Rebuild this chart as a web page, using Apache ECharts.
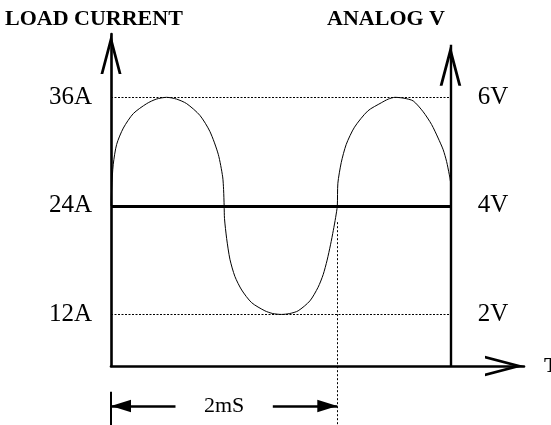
<!DOCTYPE html>
<html>
<head>
<meta charset="utf-8">
<script src="https://cdn.jsdelivr.net/npm/echarts@6/dist/echarts.min.js"></script>
<style>
html,body{margin:0;padding:0;background:#fff;}
#c{width:551px;height:425px;}
</style>
</head>
<body>
<div id="c"></div>
<script>
// ---- data (time in ms, current in A) ----
const waveX = [0, 0.006, 0.02, 0.05, 0.109, 0.197, 0.315, 0.4, 0.492, 0.58, 0.669, 0.786, 0.875, 0.948, 0.987, 0.995, 1.0,
  1.003, 1.022, 1.051, 1.095, 1.155, 1.243, 1.36, 1.43, 1.508, 1.58, 1.654, 1.758, 1.83, 1.875, 1.91, 1.94, 1.965, 1.985, 2.0,
  2.005, 2.035, 2.079, 2.152, 2.27, 2.389, 2.45, 2.509, 2.59, 2.671, 2.759, 2.833, 2.891, 2.936, 2.966, 2.989, 3.0];
const waveY = [24, 26.0, 28.6, 30.8, 32.6, 34.2, 35.3, 35.8, 36, 35.8, 35.3, 34.0, 32.2, 29.7, 27.2, 25.8, 24,
  22.6, 20.4, 18.1, 16.2, 14.7, 13.3, 12.4, 12.1, 12, 12.1, 12.4, 13.5, 15.0, 16.4, 18.0, 19.7, 21.3, 22.7, 24,
  26.5, 28.8, 30.8, 32.7, 34.5, 35.4, 35.8, 36, 35.9, 35.6, 34.4, 33.0, 31.5, 30.2, 28.9, 27.5, 26.7];
const currentTicks = [12, 24, 36];
const voltTicks = [2, 4, 6];
const dashedLevels = [36, 12];
const baseLevel = 24;
const timeEnd = 3;          // ms, position of the ANALOG V axis
const period = [0, 2];      // ms, the "2mS" span
const ampPerVolt = 6;       // 6 A per V
const leftTitle = 'LOAD CURRENT';
const rightTitle = 'ANALOG V';
const timeName = 'T';

// ---- layout constants ----
const yMin = 6.3, yMax = 43, yPageBottom = -0.22, xMax = 3.65;
const rightAxisTop = 41.8;
const dimY = 1.88, barTop = 3.46, dotTop = 22.2, gapL = 0.57, gapR = 1.43;
const serif = 'Liberation Serif';
const chevron = 'path://M10.5 0L10.51 0Z M10.5 40L21 80L18.2 80L10.5 50.7L2.8 80L0 80Z';
const tri = 'path://M6.3 0L6.31 0Z M6.3 20L12.6 40L0 40Z';

const chart = echarts.init(document.getElementById('c'), null, {renderer: 'canvas'});
const black = '#000';

const mlBase = {
  silent: true, animation: false, symbol: ['none', 'none'],
  label: {show: false}, emphasis: {disabled: true},
  lineStyle: {color: black, width: 1, type: 'solid'}
};
const headStyle = {fontFamily: serif, fontWeight: 'bold', fontSize: 22, color: black};

const option = {
  animation: false,
  backgroundColor: '#fff',
  title: [
    {text: leftTitle, left: 5, top: 8, padding: 0, textStyle: headStyle},
    {text: rightTitle, right: 106, top: 8, padding: 0, textStyle: headStyle}
  ],
  grid: [
    {left: 111, right: 27, top: 34, bottom: 59, containLabel: false, outerBoundsMode: 'none'},
    {left: 111, right: 27, top: 34, bottom: 0, containLabel: false, outerBoundsMode: 'none'}
  ],
  xAxis: [
    {
      type: 'value', gridIndex: 0, min: 0, max: xMax,
      axisLine: {show: true, onZero: false, lineStyle: {color: black, width: 2.6},
                 symbol: ['none', chevron], symbolSize: [21, 78]},
      axisTick: {show: false}, axisLabel: {show: false}, splitLine: {show: false},
      name: timeName, nameLocation: 'end', nameGap: 20, nameMoveOverlap: false,
      nameTextStyle: {fontFamily: serif, fontWeight: 'bold', fontSize: 22, color: black}
    },
    {type: 'value', gridIndex: 1, min: 0, max: xMax, show: false}
  ],
  yAxis: [
    {
      type: 'value', gridIndex: 0, position: 'left', min: yMin, max: yMax,
      axisLine: {show: true, onZero: false, lineStyle: {color: black, width: 2.6},
                 symbol: ['none', chevron], symbolSize: [21, 80]},
      axisTick: {show: false}, splitLine: {show: false},
      axisLabel: {customValues: currentTicks, formatter: v => v + 'A', margin: 19,
                  fontFamily: serif, fontSize: 25, color: black}
    },
    {
      type: 'value', gridIndex: 0, position: 'right', offset: -73.3,
      min: yMin / ampPerVolt, max: yMax / ampPerVolt,
      axisLine: {show: false}, axisTick: {show: false}, splitLine: {show: false},
      axisLabel: {customValues: voltTicks, formatter: v => v + 'V', margin: 27,
                  fontFamily: serif, fontSize: 25, color: black}
    },
    {type: 'value', gridIndex: 1, min: yPageBottom, max: yMax, show: false}
  ],
  series: [
    {
      type: 'line', xAxisIndex: 0, yAxisIndex: 0, z: 3,
      data: waveX.map((x, i) => [x, waveY[i]]),
      showSymbol: false, symbol: 'none', smooth: 0.25, clip: false,
      lineStyle: {color: black, width: 1},
      emphasis: {disabled: true}, silent: true,
      markLine: Object.assign({}, mlBase, {
        data: [
          ...dashedLevels.map(v => [
            {coord: [0, v], lineStyle: {color: black, width: 1, type: [2, 1.5]}},
            {coord: [timeEnd, v]}
          ]),
          [{coord: [0, baseLevel], lineStyle: {color: black, width: 2.8, type: 'solid'}},
           {coord: [timeEnd, baseLevel]}],
          [{coord: [timeEnd, yMin], lineStyle: {color: black, width: 2.4, type: 'solid'}},
           {coord: [timeEnd, rightAxisTop], symbol: chevron, symbolSize: [21.6, 82]}]
        ]
      })
    },
    {
      type: 'line', xAxisIndex: 1, yAxisIndex: 2, data: [], silent: true,
      markLine: Object.assign({}, mlBase, {
        data: [
          [{coord: [period[1], dotTop], lineStyle: {color: black, width: 1, type: [2, 2]}},
           {coord: [period[1], yPageBottom]}],
          [{coord: [period[0], barTop], lineStyle: {color: black, width: 2, type: 'solid'}},
           {coord: [period[0], yPageBottom]}],
          [{coord: [gapL, dimY], lineStyle: {color: black, width: 2.6, type: 'solid'}},
           {coord: [period[0], dimY], symbol: tri, symbolSize: [12.6, 40]}],
          [{coord: [gapR, dimY], lineStyle: {color: black, width: 2.6, type: 'solid'}},
           {coord: [period[1], dimY], symbol: tri, symbolSize: [12.6, 40]}]
        ]
      }),
      markPoint: {
        silent: true, animation: false, symbol: 'circle', symbolSize: 0,
        data: [{coord: [(period[0] + period[1]) / 2, dimY], value: (period[1] - period[0]) + 'mS'}],
        label: {show: true, position: 'inside', formatter: p => p.value,
                fontFamily: serif, fontSize: 22, color: black}
      }
    }
  ]
};
chart.setOption(option);
</script>
</body>
</html>
